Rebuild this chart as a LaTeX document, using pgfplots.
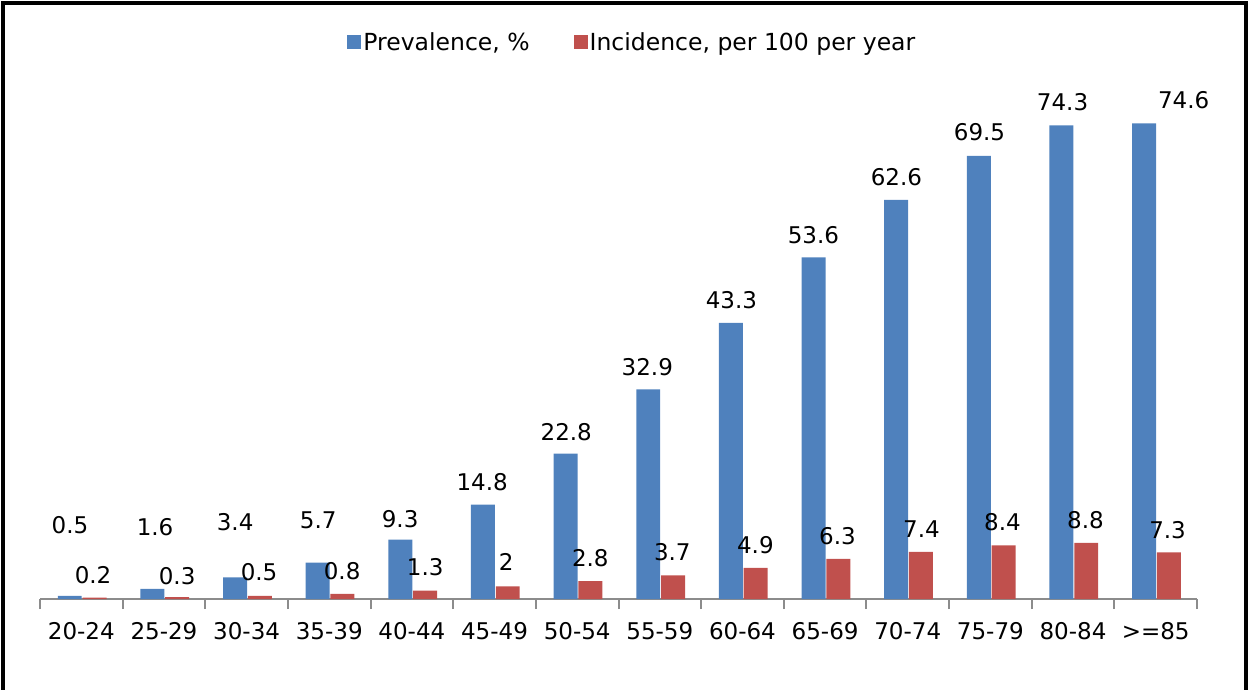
\documentclass[border=0pt]{standalone}
\usepackage{fontspec}
\setmainfont{DejaVu Sans}
\usepackage{pgfplots}
\pgfplotsset{compat=1.18}
\usepackage{pgfplotstable}

\definecolor{prevblue}{HTML}{4F81BD}
\definecolor{incred}{HTML}{C0504D}
\definecolor{axgray}{HTML}{8C8C8C}

% bar values, one row per age group
\pgfplotstableread{
x prev inc
0  0.5  0.2
1  1.6  0.3
2  3.4  0.5
3  5.7  0.8
4  9.3  1.3
5  14.8 2
6  22.8 2.8
7  32.9 3.7
8  43.3 4.9
9  53.6 6.3
10 62.6 7.4
11 69.5 8.4
12 74.3 8.8
13 74.6 7.3
}\rates

% where the data labels sit
\pgfplotstableread{
x      y    lab
-0.137 11.6 0.5
0.892  11.3 1.6
1.861  12.1 3.4
2.866  12.4 5.7
3.858  12.6 9.3
4.851  18.3 14.8
5.868  26.2 22.8
6.849  36.4 32.9
7.866  46.9 43.3
8.858  57.1 53.6
9.863  66.1 62.6
10.868 73.2 69.5
11.873 77.9 74.3
13.338 78.2 74.6
}\prevlab

\pgfplotstableread{
x      y    lab
0.142  3.8  0.2
1.159  3.6  0.3
2.151  4.2  0.5
3.156  4.4  0.8
4.161  5.0  1.3
5.142  5.8  2
6.159  6.4  2.8
7.151  7.4  3.7
8.156  8.5  4.9
9.149  9.9  6.3
10.166 11.0 7.4
11.146 12.1 8.4
12.151 12.4 8.8
13.144 10.8 7.3
}\inclab

\begin{document}
\begin{tikzpicture}
\begin{axis}[
    scale only axis,
    width=1157pt, height=510pt,
    xmin=-0.5, xmax=13.5,
    ymin=0, ymax=80,
    hide y axis,
    axis x line*=bottom,
    x axis line style={axgray, line width=2pt},
    xtick={0,...,13},
    xticklabels={20-24,25-29,30-34,35-39,40-44,45-49,50-54,55-59,60-64,65-69,70-74,75-79,80-84,>=85},
    major tick length=0pt,
    minor xtick={-0.5,0.5,...,13.5},
    minor tick length=10pt,
    tick align=outside,
    minor tick style={axgray, line width=2pt},
    xticklabel style={font=\fontsize{23}{27}\selectfont, yshift=-20pt},
    legend style={at={(0.512,1.092)}, anchor=center, draw=none,
        font=\fontsize{23.5}{27}\selectfont, legend columns=2,
        /tikz/every even column/.append style={column sep=42pt}},
    legend image code/.code={\fill[#1] (-4pt,-7pt) rectangle (10pt,7pt);},
    every node near coord/.append style={anchor=center, font=\fontsize{23}{27}\selectfont, text=black},
]
\addplot[ybar, bar width=0.29, bar shift=-0.14, fill=prevblue, draw=none] table[x=x, y=prev] {\rates};
\addlegendentry{Prevalence, \%}
\addplot[ybar, bar width=0.29, bar shift=0.16, fill=incred, draw=none] table[x=x, y=inc] {\rates};
\addlegendentry{Incidence, per 100 per year}

\addplot[forget plot, only marks, mark=none, nodes near coords, point meta=explicit symbolic]
    table[x=x, y=y, meta=lab] {\prevlab};
\addplot[forget plot, only marks, mark=none, nodes near coords, point meta=explicit symbolic]
    table[x=x, y=y, meta=lab] {\inclab};
\end{axis}
\draw[line width=3.5pt] (-37pt,-95pt) -- (-37pt,596pt) -- (1206pt,596pt) -- (1206pt,-95pt);
\pgfresetboundingbox
\useasboundingbox (-40pt,-91pt) rectangle (1209pt,599pt);
\end{tikzpicture}
\end{document}
